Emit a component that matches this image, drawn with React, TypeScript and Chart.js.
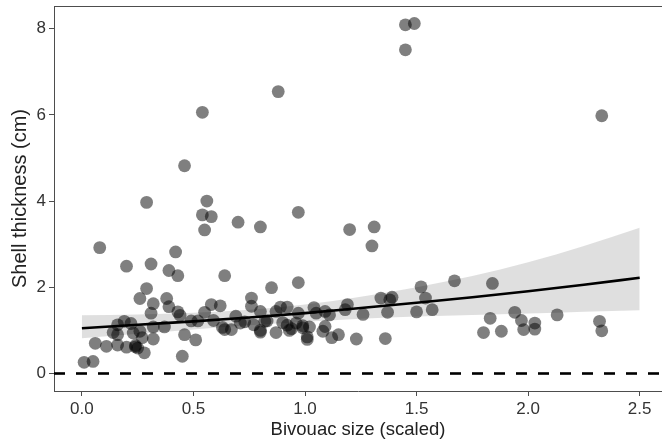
import React, { useEffect, useRef } from 'react';
import { Chart, registerables } from 'chart.js';

Chart.register(...registerables);

// ---- axes ----
const X_TICKS = [0, 0.5, 1, 1.5, 2, 2.5];
const Y_TICKS = [0, 2, 4, 6, 8];
const X_RANGE = [-0.125, 2.6];
const Y_RANGE = [-0.406, 8.526];
const X_TITLE = 'Bivouac size (scaled)';
const Y_TITLE = 'Shell thickness (cm)';

// ---- observations: bivouac size (scaled) ----
const bivouacSize = [
  1.45, 1.49, 1.45, 0.88, 0.54, 2.33, 0.46, 0.29, 0.56, 0.54, 0.58, 0.55, 0.70, 0.80, 0.97, 1.20, 1.31, 1.30, 0.08, 0.42,
  0.20, 0.31, 0.39, 0.43, 0.64, 0.97, 0.85, 0.29,
  0.26, 0.38, 0.32, 0.39, 0.31, 0.43, 0.44, 0.19, 0.16, 0.22, 0.14, 0.16, 0.26, 0.23, 0.32, 0.37, 0.27, 0.32, 0.06, 0.11,
  0.16, 0.20, 0.24, 0.25, 0.24, 0.28, 0.01, 0.05, 0.46, 0.51, 0.45,
  0.49, 0.52, 0.55, 0.58, 0.62, 0.59, 0.63, 0.64, 0.67, 0.69, 0.71, 0.73, 0.76, 0.76, 0.77, 0.80, 0.80, 0.80, 0.82, 0.83,
  0.87, 0.87, 0.89, 0.92, 0.90, 0.92, 0.94, 0.93, 0.96, 0.97, 0.99, 0.99, 1.02, 1.01, 1.01, 1.04, 1.05, 1.09, 1.11, 1.08,
  1.09, 1.12, 1.15, 1.19, 1.18, 1.26, 1.23,
  1.34, 1.39, 1.38, 1.54, 1.50, 1.57, 1.37, 1.36, 1.67, 1.84, 1.52, 1.83, 1.80, 1.88, 1.94, 1.97, 1.98, 2.03, 2.03, 2.13,
  2.32, 2.33,
];

// ---- observations: shell thickness (cm) ----
const shellThickness = [
  8.09, 8.12, 7.51, 6.54, 6.06, 5.98, 4.82, 3.97, 4.00, 3.68, 3.64, 3.33, 3.51, 3.40, 3.74, 3.34, 3.40, 2.96, 2.92, 2.82,
  2.49, 2.54, 2.39, 2.27, 2.27, 2.11, 1.99, 1.97,
  1.74, 1.74, 1.62, 1.55, 1.40, 1.43, 1.35, 1.21, 1.13, 1.16, 0.95, 0.90, 0.98, 0.94, 1.08, 1.08, 0.83, 0.80, 0.70, 0.63,
  0.66, 0.61, 0.62, 0.59, 0.65, 0.48, 0.26, 0.28, 0.90, 0.78, 0.40,
  1.22, 1.22, 1.42, 1.60, 1.57, 1.23, 1.07, 1.02, 1.02, 1.33, 1.17, 1.20, 1.75, 1.56, 1.13, 1.44, 1.00, 0.96, 1.21, 1.22,
  0.95, 1.44, 1.54, 1.54, 1.18, 1.12, 1.04, 1.00, 1.17, 1.40, 1.11, 1.06, 1.08, 0.85, 0.79, 1.53, 1.40, 1.44, 1.36, 0.98,
  1.09, 0.83, 0.90, 1.60, 1.48, 1.37, 0.80,
  1.75, 1.77, 1.71, 1.75, 1.43, 1.48, 1.42, 0.81, 2.15, 2.09, 2.01, 1.28, 0.95, 0.98, 1.42, 1.23, 1.02, 1.17, 1.03, 1.36,
  1.21, 0.99,
];

// ---- fitted curve and confidence band ----
const fitX = [0, 0.25, 0.5, 0.75, 1.0, 1.25, 1.5, 1.75, 2.0, 2.25, 2.5];
const fitY = [1.05, 1.13, 1.21, 1.30, 1.40, 1.52, 1.64, 1.77, 1.91, 2.06, 2.22];
const bandUpper = [1.35, 1.37, 1.41, 1.48, 1.60, 1.78, 2.0, 2.26, 2.58, 2.96, 3.38];
const bandLower = [0.82, 0.92, 1.02, 1.12, 1.20, 1.27, 1.32, 1.36, 1.39, 1.43, 1.47];

// ---- reference line ----
const REF_Y = 0;

const FONT = "'Liberation Sans', Arial, Helvetica, sans-serif";

const topBorder = {
  id: 'topBorder',
  afterDraw(chart: any) {
    const { ctx, chartArea } = chart;
    ctx.save();
    ctx.strokeStyle = '#4d4d4d';
    ctx.lineWidth = 1;
    ctx.beginPath();
    ctx.moveTo(chartArea.left, chartArea.top + 0.5);
    ctx.lineTo(chartArea.right, chartArea.top + 0.5);
    ctx.stroke();
    ctx.restore();
  },
};

export default function App() {
  const ref = useRef<HTMLCanvasElement | null>(null);

  useEffect(() => {
    if (!ref.current) return;
    const pts = bivouacSize.map((x, i) => ({ x, y: shellThickness[i] }));
    const fit = fitX.map((x, i) => ({ x, y: fitY[i] }));
    const up = fitX.map((x, i) => ({ x, y: bandUpper[i] }));
    const lo = fitX.map((x, i) => ({ x, y: bandLower[i] }));
    const ref0 = [
      { x: X_RANGE[0], y: REF_Y },
      { x: X_RANGE[1], y: REF_Y },
    ];

    const chart = new Chart(ref.current, {
      type: 'scatter',
      data: {
        datasets: [
          {
            type: 'line',
            data: fit,
            borderColor: '#000',
            borderWidth: 2.6,
            pointRadius: 0,
            cubicInterpolationMode: 'monotone',
            fill: false,
            order: 0,
          } as any,
          {
            type: 'line',
            data: ref0,
            borderColor: '#000',
            borderWidth: 2.6,
            borderDash: [11, 11],
            pointRadius: 0,
            fill: false,
            order: 1,
          } as any,
          {
            data: pts,
            backgroundColor: 'rgba(0,0,0,0.5)',
            borderWidth: 0,
            pointRadius: 6.4,
            order: 2,
          } as any,
          {
            type: 'line',
            data: up,
            borderWidth: 0,
            borderColor: 'rgba(0,0,0,0)',
            backgroundColor: 'rgba(140,140,140,0.28)',
            pointRadius: 0,
            cubicInterpolationMode: 'monotone',
            fill: '+1',
            order: 3,
          } as any,
          {
            type: 'line',
            data: lo,
            borderWidth: 0,
            borderColor: 'rgba(0,0,0,0)',
            pointRadius: 0,
            cubicInterpolationMode: 'monotone',
            fill: false,
            order: 4,
          } as any,
        ],
      },
      options: {
        animation: false,
        responsive: false,
        devicePixelRatio: 1,
        layout: { autoPadding: false, padding: { top: 6, right: 0, left: 0, bottom: 0 } },
        plugins: { legend: { display: false }, tooltip: { enabled: false } },
        events: [],
        scales: {
          x: {
            type: 'linear',
            min: X_RANGE[0],
            max: X_RANGE[1],
            afterBuildTicks: (s: any) => {
              s.ticks = X_TICKS.map((v) => ({ value: v }));
            },
            afterFit: (s: any) => {
              s.height = 53;
              s.paddingLeft = 0;
              s.paddingRight = 0;
            },
            ticks: {
              callback: (v: any) => Number(v).toFixed(1),
              color: '#333',
              font: { family: FONT, size: 17 },
              padding: 3,
              maxRotation: 0,
              autoSkip: false,
            },
            grid: {
              drawOnChartArea: false,
              drawTicks: true,
              tickLength: 5,
              tickColor: '#4d4d4d',
              tickWidth: 1,
            },
            border: { display: true, color: '#4d4d4d', width: 1 },
            title: {
              display: true,
              text: X_TITLE,
              color: '#222',
              font: { family: FONT, size: 18.5 },
              padding: { top: 0, bottom: 3 },
            },
          },
          y: {
            type: 'linear',
            min: Y_RANGE[0],
            max: Y_RANGE[1],
            afterBuildTicks: (s: any) => {
              s.ticks = Y_TICKS.map((v) => ({ value: v }));
            },
            afterFit: (s: any) => {
              s.width = 54;
              s.paddingTop = 0;
              s.paddingBottom = 0;
            },
            ticks: {
              callback: (v: any) => String(v),
              color: '#333',
              font: { family: FONT, size: 17 },
              padding: 3,
              autoSkip: false,
            },
            grid: {
              drawOnChartArea: false,
              drawTicks: true,
              tickLength: 5,
              tickColor: '#4d4d4d',
              tickWidth: 1,
            },
            border: { display: true, color: '#4d4d4d', width: 1 },
            title: {
              display: true,
              text: Y_TITLE,
              color: '#222',
              font: { family: FONT, size: 20 },
              padding: { top: 8, bottom: 0 },
            },
          },
        },
      },
      plugins: [topBorder],
    });
    return () => chart.destroy();
  }, []);

  return (
    <div style={{ position: 'absolute', left: 0, top: 0, width: 662, height: 444, background: '#fff' }}>
      <canvas ref={ref} width={662} height={444} style={{ display: 'block' }} />
    </div>
  );
}
